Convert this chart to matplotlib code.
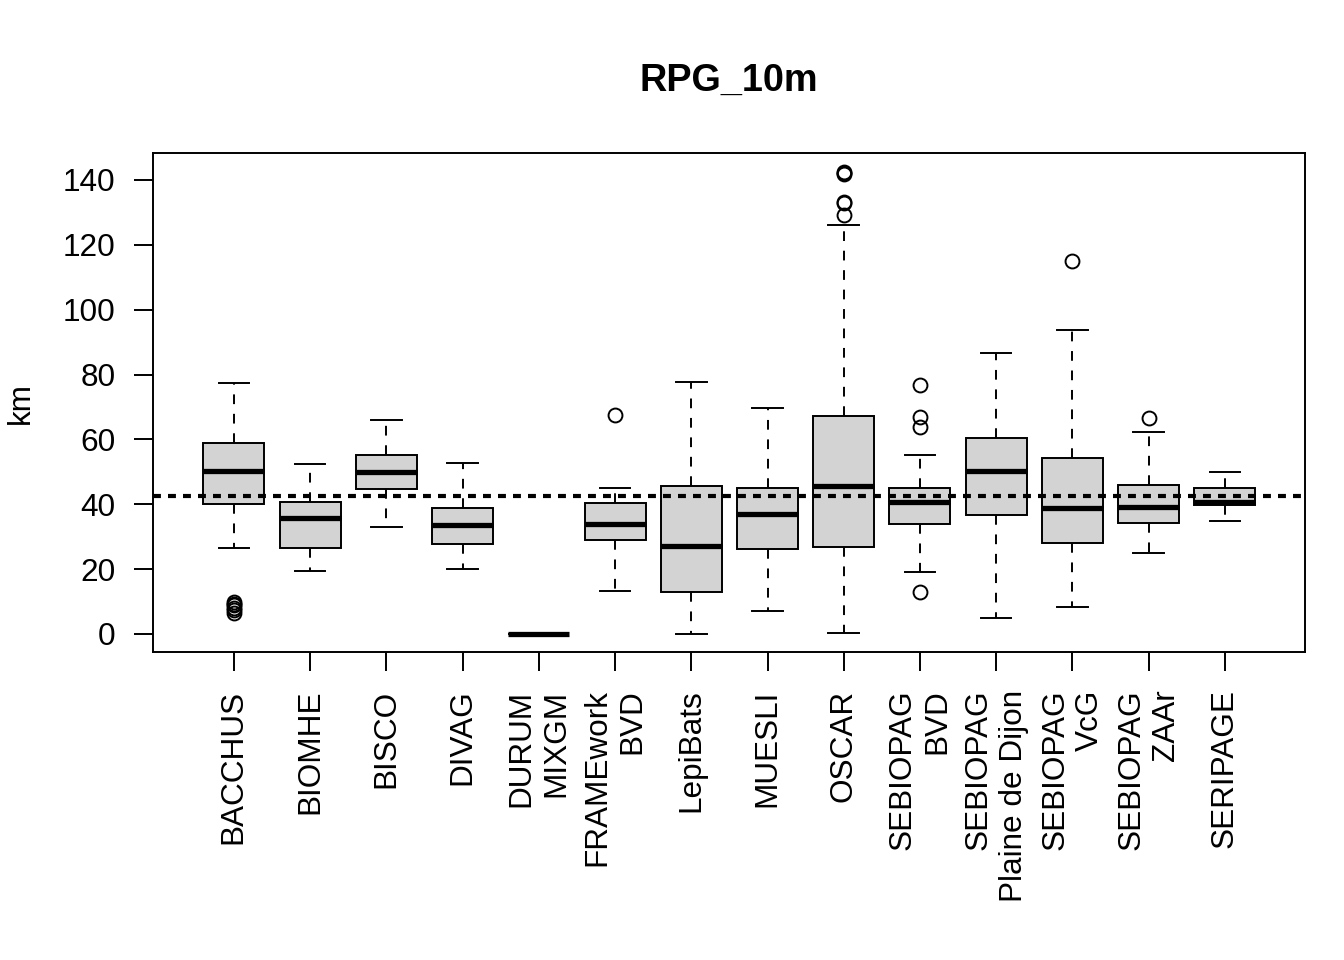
import matplotlib.pyplot as plt

plt.rcParams['font.family'] = ['Liberation Sans', 'DejaVu Sans']

labels = ['BACCHUS', 'BIOMHE', 'BISCO', 'DIVAG', 'DURUM\nMIXGM', 'FRAMEwork\nBVD',
          'LepiBats', 'MUESLI', 'OSCAR', 'SEBIOPAG\nBVD', 'SEBIOPAG\nPlaine de Dijon',
          'SEBIOPAG\nVcG', 'SEBIOPAG\nZAAr', 'SERIPAGE']
whislo = [26.6, 19.5, 32.9, 20.0, 0.0, 13.3, 0.0, 7.1, 0.4, 19.2, 4.9, 8.4, 25.1, 34.8]
q1 = [40.1, 26.4, 44.6, 27.7, 0.0, 28.9, 12.9, 26.2, 26.7, 33.8, 36.7, 28.2, 34.2, 39.8]
med = [50.4, 35.7, 50.0, 33.6, 0.0, 34.0, 27.2, 36.9, 45.7, 40.8, 50.2, 38.8, 39.2, 40.7]
q3 = [58.8, 40.8, 55.3, 38.9, 0.0, 40.3, 45.6, 45.0, 67.2, 45.1, 60.5, 54.4, 45.8, 44.9]
whishi = [77.3, 52.3, 66.0, 52.8, 0.0, 45.0, 77.7, 69.6, 126.2, 55.1, 86.6, 93.6, 62.4, 50.1]
fliers = [[6.5, 7.3, 8.0, 8.8, 9.4, 9.9], [], [], [], [], [67.5], [], [],
          [129.2, 132.8, 133.3, 141.8, 142.0, 142.3], [12.9, 63.9, 67.0, 76.8],
          [], [115.1], [66.5], []]
ref_level = 42.6
yticks = [0, 20, 40, 60, 80, 100, 120, 140]

stats = []
for i in range(len(labels)):
    stats.append({'whislo': whislo[i], 'q1': q1[i], 'med': med[i], 'q3': q3[i],
                  'whishi': whishi[i], 'fliers': fliers[i]})

fig = plt.figure(figsize=(13.44, 9.6), dpi=100)
ax = fig.add_axes([153/1344, 1-652/960, (1305-153)/1344, (652-153)/960])

pos = list(range(1, len(labels) + 1))
ax.bxp(stats, positions=pos, widths=0.8, capwidths=0.4, patch_artist=True,
       boxprops=dict(facecolor='#d3d3d3', edgecolor='black', linewidth=1.4),
       medianprops=dict(color='black', linewidth=3.8, solid_capstyle='butt'),
       whiskerprops=dict(color='black', linewidth=1.4, linestyle=(0, (5, 5))),
       capprops=dict(color='black', linewidth=1.4),
       flierprops=dict(marker='o', markerfacecolor='none', markeredgecolor='black',
                       markersize=10, markeredgewidth=1.4))

ax.axhline(ref_level, color='black', linewidth=3, linestyle=(0, (1.9, 1.7)), zorder=5)

ax.set_xlim(-0.06, 15.05)
ax.set_ylim(-5.55, 148.3)
ax.set_yticks(yticks)
ax.set_yticklabels([str(v) for v in yticks], fontsize=22.7)
ax.set_xticks(pos)
ax.set_xticklabels(labels, rotation=90, ha='center', va='top', multialignment='right',
                   fontsize=22.7)
ax.tick_params(axis='both', direction='out', length=14, width=1.4, pad=13)
for s in ax.spines.values():
    s.set_linewidth(1.4)

ax.text(-0.115, 0.5, 'km', transform=ax.transAxes, rotation=90, ha='center',
        va='center', fontsize=22.7)
ax.set_title('RPG_10m', fontsize=27.3, fontweight='bold', pad=45)

fig.savefig('out.png', dpi=100)
